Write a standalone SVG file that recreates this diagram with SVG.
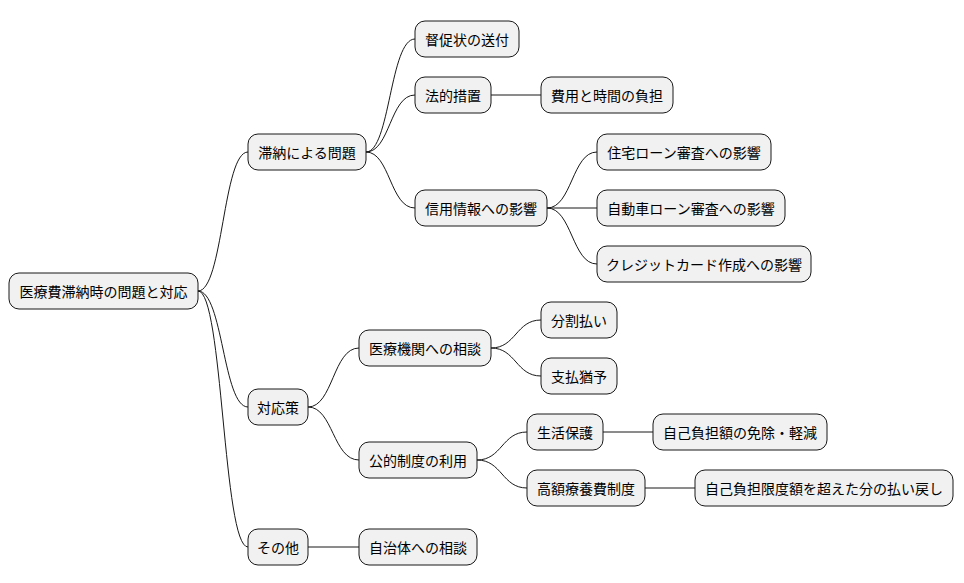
<svg xmlns="http://www.w3.org/2000/svg" width="964" height="583" viewBox="0 0 964 583">
<style>
.n rect{fill:#f1f1f1;stroke:#181818;stroke-width:1}
.n text{font-family:"Noto Sans CJK JP","Noto Sans",sans-serif;font-size:14px;fill:#000;text-anchor:middle;dominant-baseline:central}
#c path{fill:none;stroke:#181818;stroke-width:1}
</style>
<rect width="964" height="583" fill="#fff"/>
<g id="c">
<path d="M198 291 C223 291 223 152 248 152"/>
<path d="M198 291 C223 291 223 407 248 407"/>
<path d="M198 291 C223 291 223 547 248 547"/>
<path d="M366 152 C390 152 390 39 415 39"/>
<path d="M366 152 C390 152 390 95 415 95"/>
<path d="M366 152 C390 152 390 208 415 208"/>
<path d="M491 95 L541 95"/>
<path d="M547 208 C572 208 572 152 597 152"/>
<path d="M547 208 L597 208"/>
<path d="M547 208 C572 208 572 264 597 264"/>
<path d="M308 407 C333 407 333 348 359 348"/>
<path d="M308 407 C333 407 333 460 359 460"/>
<path d="M308 547 L359 547"/>
<path d="M491 348 C516 348 516 320 541 320"/>
<path d="M491 348 C516 348 516 376 541 376"/>
<path d="M477 460 C502 460 502 432 527 432"/>
<path d="M477 460 C502 460 502 488 527 488"/>
<path d="M603 432 L653 432"/>
<path d="M645 488 L695 488"/>
</g>
<g id="root" class="n"><rect x="9" y="273" width="189" height="36" rx="10"/><text x="103.5" y="291">医療費滞納時の問題と対応</text></g>
<g id="n1" class="n"><rect x="248" y="134" width="118" height="36" rx="10"/><text x="307" y="152">滞納による問題</text></g>
<g id="n2" class="n"><rect x="248" y="389" width="60" height="36" rx="10"/><text x="278" y="407">対応策</text></g>
<g id="n3" class="n"><rect x="248" y="529" width="60" height="36" rx="10"/><text x="278" y="547">その他</text></g>
<g id="n11" class="n"><rect x="415" y="21" width="104" height="36" rx="10"/><text x="467" y="39">督促状の送付</text></g>
<g id="n12" class="n"><rect x="415" y="77" width="76" height="36" rx="10"/><text x="453" y="95">法的措置</text></g>
<g id="n121" class="n"><rect x="541" y="77" width="132" height="36" rx="10"/><text x="607" y="95">費用と時間の負担</text></g>
<g id="n13" class="n"><rect x="415" y="190" width="132" height="36" rx="10"/><text x="481" y="208">信用情報への影響</text></g>
<g id="n131" class="n"><rect x="597" y="134" width="174" height="36" rx="10"/><text x="684" y="152">住宅ローン審査への影響</text></g>
<g id="n132" class="n"><rect x="597" y="190" width="188" height="36" rx="10"/><text x="691" y="208">自動車ローン審査への影響</text></g>
<g id="n133" class="n"><rect x="597" y="246" width="214" height="36" rx="10"/><text x="704" y="264">クレジットカード作成への影響</text></g>
<g id="n21" class="n"><rect x="359" y="330" width="132" height="36" rx="10"/><text x="425" y="348">医療機関への相談</text></g>
<g id="n211" class="n"><rect x="541" y="302" width="76" height="36" rx="10"/><text x="579" y="320">分割払い</text></g>
<g id="n212" class="n"><rect x="541" y="358" width="76" height="36" rx="10"/><text x="579" y="376">支払猶予</text></g>
<g id="n22" class="n"><rect x="359" y="442" width="118" height="36" rx="10"/><text x="418" y="460">公的制度の利用</text></g>
<g id="n221" class="n"><rect x="527" y="414" width="76" height="36" rx="10"/><text x="565" y="432">生活保護</text></g>
<g id="n2211" class="n"><rect x="653" y="414" width="174" height="36" rx="10"/><text x="740" y="432">自己負担額の免除・軽減</text></g>
<g id="n222" class="n"><rect x="527" y="470" width="118" height="36" rx="10"/><text x="586" y="488">高額療養費制度</text></g>
<g id="n2221" class="n"><rect x="695" y="470" width="258" height="36" rx="10"/><text x="824" y="488">自己負担限度額を超えた分の払い戻し</text></g>
<g id="n31" class="n"><rect x="359" y="529" width="118" height="36" rx="10"/><text x="418" y="547">自治体への相談</text></g>
</svg>
